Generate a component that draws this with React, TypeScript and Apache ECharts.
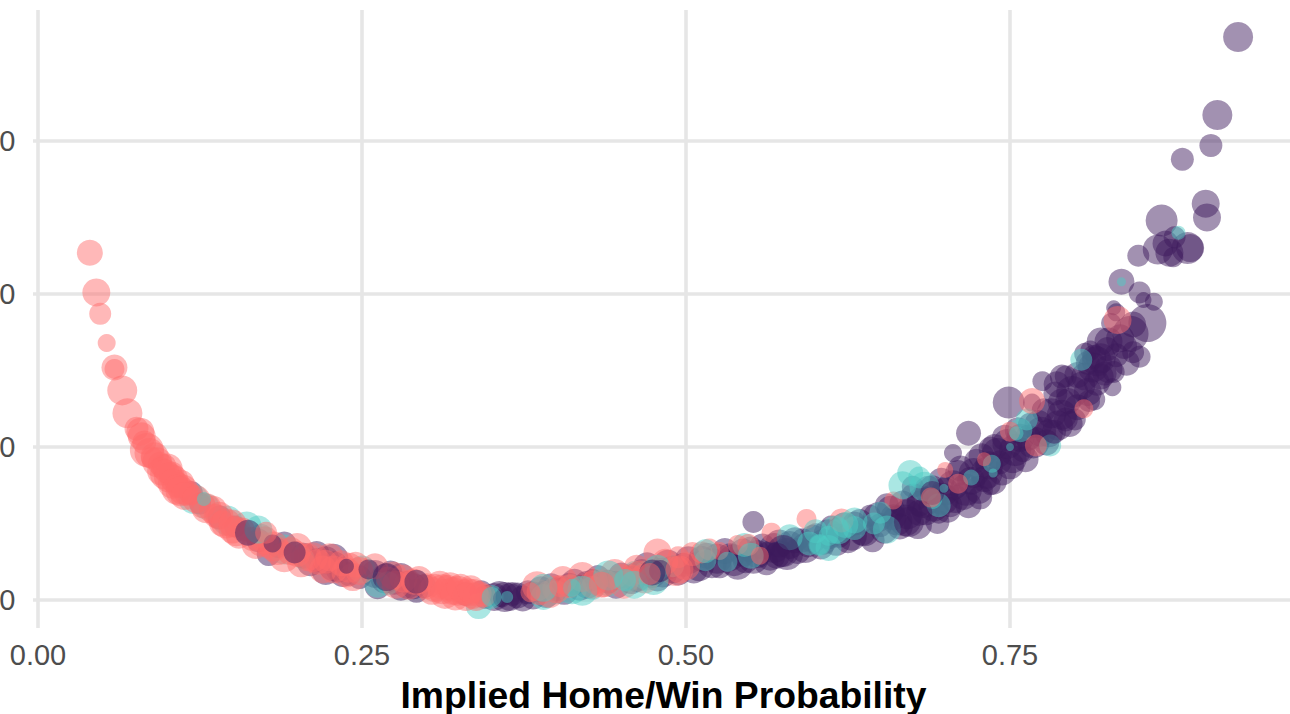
import React, { useEffect, useRef } from "react";
import * as echarts from "echarts";

const xTicks = [0, 0.25, 0.5, 0.75];
const yTicks = [0, 10, 20, 30];
const xRange = [-0.00386, 0.96605];
const yRange = [-1.83, 38.56];
const axisTitle = "Implied Home/Win Probability";

const CORAL = "rgba(255,107,107,0.6)";
const TEAL = "rgba(78,205,196,0.6)";
const PURPLE = "rgba(61,26,91,0.6)";

// [probability, y value, point size]
const purpleBack: number[][] = [
  [0.118,7.0,24],[0.125,6.3,22],[0.14,5.4,24],[0.152,4.8,22],[0.17,3.9,24],[0.185,3.4,20],[0.205,2.9,26],[0.215,2.6,24],[0.228,2.2,30],[0.232,2.0,26],
  [0.26,1.7,28],[0.268,1.4,30],[0.275,1.2,26],[0.285,1.0,28],[0.298,0.9,24],[0.33,0.4,24],[0.345,0.2,24],[0.352,0.2,28],[0.36,0.2,30],[0.37,0.3,26],
  [0.378,0.5,24],[0.388,0.7,26],[0.392,0.4,28],[0.4,0.7,24],[0.41,1.0,24],[0.418,0.8,26],[0.428,1.3,22],[0.44,1.2,24],[0.45,1.6,26],[0.458,1.3,28],
  [0.466,1.9,24],[0.474,1.7,28],[0.482,1.8,30],[0.49,2.0,28],[0.498,2.3,24],[0.506,2.0,28],[0.512,2.7,26],[0.52,2.4,30],[0.526,2.2,24],[0.534,2.8,28],
  [0.54,2.3,30],[0.546,2.6,26],[0.55,3.3,26],[0.555,3.0,28],[0.562,2.4,24],[0.568,3.4,30],[0.574,3.0,26],[0.58,3.6,28],[0.586,3.2,26],[0.59,3.9,24],
  [0.594,3.5,22],[0.6,4.3,22],[0.606,3.8,26],[0.612,4.8,22],[0.618,4.2,24],[0.625,3.9,26],[0.63,5.0,24],[0.636,4.4,26],[0.642,5.5,22],[0.65,4.9,24],
  [0.655,6.2,24],[0.66,5.4,26],[0.665,4.8,26],[0.669,5.2,32],[0.675,7.4,22],[0.68,6.3,26],[0.685,5.8,28],[0.69,7.3,26],[0.695,5.7,22],[0.7,7.1,28],
  [0.704,6.2,24],[0.71,8.3,26],[0.714,6.8,28],[0.72,7.8,28],[0.724,9.1,24],[0.73,7.9,26],[0.734,8.8,28],[0.738,10.0,26],[0.742,9.0,24],[0.746,10.6,26],
  [0.752,9.2,28],[0.756,11.1,26],[0.76,9.8,24],[0.764,10.6,26],[0.772,11.5,28],[0.776,12.4,24],[0.78,10.9,28],[0.785,13.5,24],[0.79,12.1,30],[0.795,13.0,26],
  [0.79,14.6,24],[0.8,11.8,22],[0.805,14.0,28],[0.81,15.5,24],[0.815,13.1,22],[0.82,14.6,26],[0.825,16.4,24],[0.83,14.9,22],[0.835,17.1,28],[0.84,15.5,26],
  [0.845,16.2,22],[0.828,18.1,20],[0.82,16.9,28],
];
const purpleDense: number[][] = [
  [0.21,2.4,26],[0.222,2.6,28],[0.24,1.7,24],[0.272,1.8,24],[0.28,1.5,28],[0.29,0.9,26],[0.342,0.5,24],[0.356,0.4,26],[0.366,0.4,24],[0.374,0.1,26],
  [0.382,0.3,28],[0.396,0.9,26],[0.406,0.6,28],[0.414,1.2,26],[0.424,1.0,28],[0.432,1.5,24],[0.446,1.0,28],[0.462,1.5,30],[0.47,2.2,28],[0.478,1.4,26],
  [0.486,2.3,30],[0.494,1.8,26],[0.502,2.6,28],[0.51,2.2,30],[0.516,2.9,26],[0.524,2.7,30],[0.53,3.2,26],[0.537,2.6,32],[0.544,3.1,28],[0.552,2.7,30],
  [0.559,3.5,26],[0.565,2.9,30],[0.572,3.7,28],[0.578,3.0,32],[0.584,3.9,26],[0.592,3.4,30],[0.598,4.0,28],[0.604,3.5,26],[0.61,4.3,30],[0.616,3.8,28],
  [0.622,4.8,28],[0.628,4.2,30],[0.634,5.1,26],[0.638,4.5,30],[0.644,3.9,24],[0.648,5.4,30],[0.653,4.6,28],[0.658,5.9,28],[0.663,5.2,30],[0.667,6.3,26],
  [0.671,5.6,30],[0.676,6.7,28],[0.679,4.9,28],[0.683,6.4,32],[0.687,7.2,28],[0.691,6.1,30],[0.694,5.1,24],[0.697,7.8,26],[0.698,6.6,32],[0.702,5.9,26],
  [0.706,7.5,30],[0.708,6.6,28],[0.712,8.6,26],[0.716,7.2,32],[0.718,6.2,26],[0.722,8.3,30],[0.726,7.2,28],[0.728,9.4,26],[0.732,8.3,32],[0.737,7.8,28],
  [0.74,9.6,30],[0.744,8.4,28],[0.748,10.2,30],[0.75,8.8,28],[0.754,9.8,32],[0.758,10.6,28],[0.762,9.2,26],[0.766,11.4,26],[0.768,10.3,32],[0.774,11.0,30],
  [0.778,10.3,26],[0.782,12.2,30],[0.787,11.4,30],[0.79,12.9,28],[0.793,11.8,24],[0.798,13.6,32],[0.802,12.6,26],[0.802,14.7,26],[0.808,14.6,28],[0.81,13.6,28],
  [0.814,15.2,30],[0.817,14.2,26],[0.82,15.8,30],[0.826,15.1,28],[0.832,16.0,24],[0.838,16.6,26],[0.815,15.9,24],[0.808,16.1,22],
  [0.222,1.9,28],[0.228,2.7,30],[0.235,1.7,26],[0.19,3.7,24],[0.178,3.0,24],[0.262,0.9,26],[0.28,0.8,26],[0.292,0.6,24],[0.248,1.5,24],[0.215,3.0,26],
];
const tealBack: number[][] = [
  [0.12,6.6,30],[0.13,6.1,26],[0.146,5.2,30],[0.161,4.8,30],[0.172,4.2,24],[0.19,3.3,30],[0.205,2.7,22],[0.25,2.0,28],[0.262,1.0,26],[0.27,1.1,24],
  [0.34,-0.4,26],[0.35,0.2,24],[0.39,0.2,26],[0.4,0.5,24],[0.412,0.7,30],[0.428,0.8,24],[0.44,1.1,26],[0.455,1.3,24],[0.46,1.9,20],[0.47,1.6,30],
  [0.49,2.2,22],[0.515,2.6,22],[0.545,3.6,24],[0.595,3.7,24],[0.603,3.6,22],[0.61,4.2,20],[0.618,4.5,26],[0.63,4.7,24],[0.645,5.0,22],[0.673,8.3,26],
  [0.684,7.4,30],[0.69,6.6,20],[0.758,11.1,24],[0.781,10.1,22],[0.72,8.0,16],
];
const coralBack: number[][] = [
  [0.04,22.7,26],[0.045,20.1,28],[0.048,18.7,22],[0.053,16.8,18],[0.059,15.2,26],[0.059,15.1,20],[0.065,13.7,30],[0.069,12.2,30],[0.076,11.2,24],[0.079,11.0,28],
  [0.08,10.7,28],[0.082,10.3,24],[0.084,9.8,34],[0.088,9.3,22],[0.09,9.4,28],[0.094,8.9,24],[0.097,8.7,26],[0.1,8.6,30],[0.103,8.2,26],[0.105,7.9,28],
  [0.108,7.5,26],[0.11,7.6,28],[0.112,7.2,30],[0.115,7.0,26],[0.118,6.9,22],[0.127,6.2,26],[0.13,6.0,30],[0.137,5.5,24],[0.142,5.0,26],[0.15,4.6,28],
  [0.155,4.2,26],[0.158,4.6,24],[0.165,4.0,24],[0.172,3.7,26],[0.178,3.5,24],[0.185,3.2,28],[0.2,3.0,26],[0.208,2.8,28],[0.216,2.5,26],[0.222,2.5,24],
  [0.228,2.0,28],[0.234,2.4,26],[0.24,2.1,30],[0.248,1.9,28],[0.27,1.4,24],[0.282,1.4,28],[0.29,1.2,26],[0.3,0.9,26],[0.306,0.8,28],[0.312,0.7,30],
  [0.316,0.8,26],[0.32,0.6,28],[0.324,0.6,30],[0.328,0.5,26],[0.332,0.5,28],[0.336,0.4,30],[0.34,0.4,26],[0.344,0.3,24],[0.387,0.5,26],[0.4,0.7,28],
  [0.41,0.9,24],[0.43,1.2,26],[0.437,1.1,28],[0.45,1.5,26],[0.458,1.6,22],[0.464,1.8,24],[0.478,3.1,28],[0.494,2.8,22],[0.5,2.2,28],[0.512,3.1,22],
  [0.526,3.2,18],[0.548,3.6,22],[0.566,4.4,20],[0.593,5.3,20],[0.62,5.2,24],[0.66,6.5,18],[0.7,8.5,16],[0.75,11.0,20],
  [0.086,9.6,30],[0.092,9.0,30],[0.095,8.4,28],[0.098,8.2,30],[0.101,8.0,30],[0.104,7.6,30],[0.107,7.2,30],[0.11,7.1,30],[0.113,6.8,28],[0.122,6.6,28],
  [0.135,5.9,28],[0.14,5.5,28],[0.145,5.0,30],[0.15,5.0,28],[0.153,4.5,30],[0.168,3.6,28],[0.175,3.9,28],[0.182,3.5,30],[0.19,2.8,30],[0.195,3.2,28],
  [0.203,2.4,28],[0.212,2.8,30],[0.22,2.0,28],[0.238,1.8,30],[0.245,2.3,26],[0.274,1.6,28],[0.286,1.0,30],[0.294,1.3,28],[0.304,0.6,28],[0.31,1.0,28],
  [0.314,0.4,30],[0.318,0.9,28],[0.322,0.3,30],[0.326,0.8,28],[0.33,0.2,28],[0.334,0.7,28],[0.338,0.2,28],
  [0.385,0.9,30],[0.395,0.4,28],[0.405,1.3,28],[0.42,1.5,30],[0.428,1.0,28],[0.445,1.7,30],[0.452,1.0,28],[0.462,2.1,26],[0.468,1.4,30],[0.484,2.5,26],
  [0.492,1.9,30],[0.505,3.0,24],[0.518,3.3,22],[0.54,3.6,20],[0.2,3.4,30],[0.225,2.8,28],[0.243,1.5,28],[0.26,2.2,26],[0.276,1.0,28],
];
const tealMid: number[][] = [
  [0.39,0.8,28],[0.42,0.6,30],[0.44,1.6,30],[0.46,1.0,28],[0.475,1.3,30],[0.478,2.1,26],[0.515,3.2,24],[0.55,2.9,26],[0.58,4.1,26],[0.6,4.5,24],
  [0.61,3.4,26],[0.63,5.2,26],[0.655,4.6,28],[0.667,7.5,28],[0.68,8.0,22],[0.695,6.2,24],[0.65,5.7,22],[0.17,4.6,28],
];
const purpleFront: number[][] = [
  [0.926,36.8,30],[0.91,31.7,30],[0.905,29.7,23],[0.883,28.8,23],[0.901,25.9,28],[0.902,25.0,28],[0.867,24.8,32],[0.887,23.0,32],[0.889,23.0,28],[0.864,22.9,30],
  [0.87,23.3,26],[0.873,22.7,28],[0.876,22.4,20],[0.877,23.7,22],[0.849,22.5,22],[0.836,20.8,26],[0.85,20.1,22],[0.853,19.6,16],[0.861,19.5,18],[0.856,18.1,38],
  [0.845,18.0,26],[0.843,17.4,36],[0.85,15.9,22],[0.83,19.1,15],[0.832,18.8,18],[0.826,16.9,28],[0.817,15.6,30],[0.823,14.8,24],[0.812,16.3,20],[0.793,14.6,22],
  [0.786,14.1,26],[0.775,14.3,20],[0.749,12.9,32],[0.718,10.9,25],[0.727,6.7,24],[0.706,9.6,18],[0.811,13.0,22],[0.829,13.9,18],[0.796,11.5,26],[0.784,11.0,24],
  [0.767,12.9,18],[0.552,5.1,22],[0.162,4.4,26],[0.181,3.7,18],[0.198,3.1,22],[0.238,2.2,15],[0.255,2.0,20],[0.269,1.5,28],[0.292,1.2,24],[0.358,0.1,18],
  [0.364,0.2,28],[0.474,1.8,26],[0.48,1.9,22],[0.575,3.2,32],[0.57,2.9,26],[0.672,5.1,30],[0.68,5.7,26],[0.735,7.5,20],[0.735,9.9,24],[0.69,7.0,24],
];
const tealFront: number[][] = [
  [0.532,2.5,20],[0.615,4.6,28],[0.623,4.9,26],[0.603,3.6,20],[0.805,15.7,22],[0.763,11.8,22],[0.75,10.0,8],[0.737,8.3,9],[0.699,7.3,9],[0.88,24.0,14],
  [0.836,20.8,9],[0.35,0.2,20],[0.362,0.2,12],[0.412,0.8,18],[0.736,8.9,18],[0.755,10.9,14],[0.453,1.3,22],[0.128,6.6,14],
];
const coralFront: number[][] = [
  [0.833,18.3,28],[0.807,12.5,19],[0.77,10.1,22],[0.767,13.0,26],[0.689,6.7,20],[0.557,2.9,18],[0.403,0.9,22],[0.38,0.5,20],[0.435,1.0,26],[0.472,1.7,22],
  [0.495,2.0,28],[0.73,9.2,14],[0.71,7.6,20],[0.176,4.4,22],
];

const layers: [number[][], string][] = [
  [purpleBack, PURPLE],
  [purpleDense, PURPLE],
  [tealBack, TEAL],
  [coralBack, CORAL],
  [tealMid, TEAL],
  [purpleFront, PURPLE],
  [tealFront, TEAL],
  [coralFront, CORAL],
];

export default function App() {
  const ref = useRef<HTMLDivElement>(null);
  useEffect(() => {
    const chart = echarts.init(ref.current!, undefined, { renderer: "svg" });
    const grid = { color: "#E6E6E6", width: 3.6 };
    chart.setOption({
      animation: false,
      backgroundColor: "#fff",
      grid: { left: 33, right: 0, top: 10, bottom: 86, containLabel: false, outerBoundsMode: "none" },
      textStyle: { fontFamily: "Liberation Sans" },
      xAxis: {
        type: "value",
        min: xRange[0],
        max: xRange[1],
        name: axisTitle,
        nameLocation: "middle",
        nameGap: 48,
        nameTextStyle: { color: "#000", fontSize: 37.3, fontWeight: "bold", fontFamily: "Liberation Sans", padding: [0, 0, 0, 4] },
        axisLine: { show: false },
        axisTick: { show: false, customValues: xTicks },
        axisLabel: {
          customValues: xTicks,
          formatter: (v: number) => v.toFixed(2),
          color: "#4D4D4D",
          fontSize: 29,
          margin: 12,
          fontFamily: "Liberation Sans",
        },
        splitLine: { show: true, lineStyle: { color: grid.color, width: grid.width } },
      },
      yAxis: {
        type: "value",
        min: yRange[0],
        max: yRange[1],
        axisLine: { show: false },
        axisTick: { show: false, customValues: yTicks },
        axisLabel: {
          customValues: yTicks,
          formatter: (v: number) => String(v),
          color: "#4D4D4D",
          fontSize: 29,
          margin: 17.5,
          fontFamily: "Liberation Sans",
        },
        splitLine: { show: true, lineStyle: { color: grid.color, width: grid.width } },
      },
      series: layers.map(([data, color]) => ({
        type: "scatter",
        data,
        symbolSize: (d: number[]) => d[2],
        itemStyle: { color, borderWidth: 0 },
        silent: true,
      })),
    });
    return () => chart.dispose();
  }, []);
  return <div ref={ref} style={{ position: "fixed", left: 0, top: 0, width: 1290, height: 714 }} />;
}
